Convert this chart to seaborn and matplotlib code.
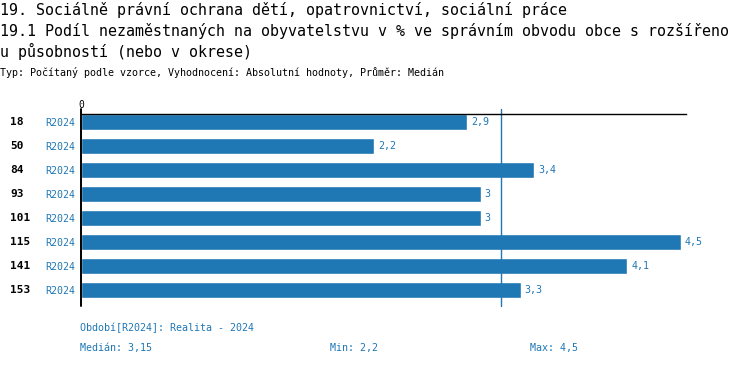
import numpy as np
import matplotlib
matplotlib.use("Agg")
import matplotlib.pyplot as plt
import matplotlib.transforms as mtransforms
import seaborn as sns

# data
ids = ["18", "50", "84", "93", "101", "115", "141", "153"]
values = [2.9, 2.2, 3.4, 3.0, 3.0, 4.5, 4.1, 3.3]
period = "R2024"
period_label = "Období[R2024]: Realita - 2024"
title1 = "19. Sociálně právní ochrana dětí, opatrovnictví, sociální práce"
title2 = "19.1 Podíl nezaměstnaných na obyvatelstvu v % ve správním obvodu obce s rozšířeno"
title3 = "u působností (nebo v okrese)"
subtitle = "Typ: Počítaný podle vzorce, Vyhodnocení: Absolutní hodnoty, Průměr: Medián"

blue = "#1f77b4"
mono = "DejaVu Sans Mono"

def fmt(v):
    return f"{v:g}".replace(".", ",")

sns.set_style("white")
plt.rcParams["font.family"] = [mono, "DejaVu Sans"]
plt.rcParams["text.color"] = "black"
plt.rcParams["xtick.color"] = "black"

fig = plt.figure(figsize=(7.5, 3.66), dpi=100)
ax = fig.add_axes([81 / 750, 1 - 302 / 366, (686 - 81) / 750, 188 / 366])

sns.barplot(x=values, y=ids, order=ids, orient="h", color=blue,
            saturation=1, width=0.667, ax=ax)

ax.set_xlim(0, 4.54)
ax.set_ylim(len(ids) - 0.5, -1 / 3)

for s in ["right", "bottom", "left"]:
    ax.spines[s].set_visible(False)
ax.spines["top"].set_color("black")
ax.spines["top"].set_linewidth(1.0)

# zero axis and median line
ax.axvline(0, ymin=-0.02, ymax=1.025, clip_on=False, color="black", lw=1.4)
med = float(np.median(values))
ax.axvline(med, ymin=-0.02, ymax=1.025, clip_on=False, color=blue, lw=1.0)

# top tick "0"
ax.xaxis.tick_top()
ax.set_xticks([0])
ax.set_xticklabels(["0"], fontsize=7, family=mono, color="black")
ax.tick_params(axis="x", length=0, pad=3)

# y tick labels: period code
ax.set_yticks(range(len(ids)))
ax.set_yticklabels([period] * len(ids), color=blue, fontsize=7.2, family=mono)
ax.tick_params(axis="y", length=0, pad=4)
ax.set_xlabel("")
ax.set_ylabel("")

# unit ids on the far left
trans = mtransforms.blended_transform_factory(fig.transFigure, ax.transData)
for i, name in enumerate(ids):
    ax.text(10 / 750, i, name, transform=trans, ha="left", va="center",
            fontsize=8, fontweight="bold", color="black", family=mono)

# value labels
for i, v in enumerate(values):
    ax.text(v + 0.03, i, fmt(v), ha="left", va="center",
            fontsize=7.2, color=blue, family=mono)

# titles
fig.text(0, 1 - 10 / 366, title1, fontsize=10.8, va="center", ha="left", family=mono)
fig.text(0, 1 - 31 / 366, title2, fontsize=10.8, va="center", ha="left", family=mono)
fig.text(0, 1 - 51 / 366, title3, fontsize=10.8, va="center", ha="left", family=mono)
fig.text(0, 1 - 73 / 366, subtitle, fontsize=7.2, va="center", ha="left", family=mono)

# footer
fig.text(80 / 750, 1 - 328 / 366, period_label, fontsize=7.2, color=blue,
         va="center", ha="left", family=mono)
fig.text(80 / 750, 1 - 348 / 366, "Medián: " + fmt(med), fontsize=7.2, color=blue,
         va="center", ha="left", family=mono)
fig.text(330 / 750, 1 - 348 / 366, "Min: " + fmt(min(values)), fontsize=7.2, color=blue,
         va="center", ha="left", family=mono)
fig.text(530 / 750, 1 - 348 / 366, "Max: " + fmt(max(values)), fontsize=7.2, color=blue,
         va="center", ha="left", family=mono)

fig.savefig("out.png", dpi=100)
